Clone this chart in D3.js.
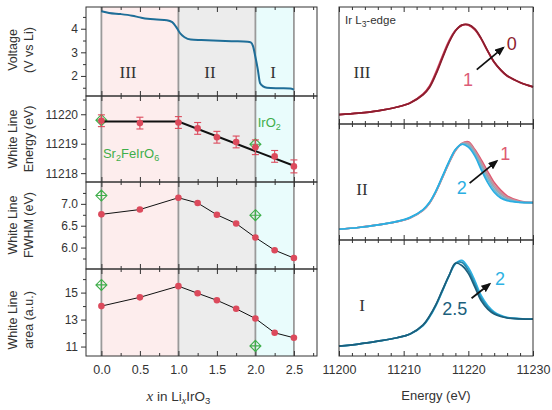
<!DOCTYPE html>
<html>
<head>
<meta charset="utf-8">
<script src="https://cdn.jsdelivr.net/npm/d3@7"></script>
<style>
body { margin: 0; background: #fff; }
text { font-family: "Liberation Sans", Arial, sans-serif; fill: #333; }
.roman { font-family: "Liberation Serif", "Times New Roman", serif; }
</style>
</head>
<body>
<svg id="chart" width="552" height="410"></svg>
<script>
// ---- left column data (x in LixIrO3)
var liX = [0, 0.5, 1.0, 1.25, 1.5, 1.75, 2.0, 2.25, 2.5];
var wlEnergy = [11219.78, 11219.70, 11219.72, 11219.52, 11219.22, 11219.06, 11218.88, 11218.57, 11218.23];
var wlEnergyErr = [0.2, 0.2, 0.2, 0.2, 0.2, 0.2, 0.25, 0.2, 0.22];
var wlFwhm = [6.76, 6.87, 7.14, 7.02, 6.75, 6.55, 6.23, 5.94, 5.76];
var wlArea = [14.0, 14.65, 15.48, 14.95, 14.43, 13.8, 13.08, 12.02, 11.65];
var fitX = [0, 1.0, 2.5];
var fitE = [11219.75, 11219.75, 11218.25];
var refX = [0, 2.0];
var refEnergy = [11219.8, 11218.98];
var refFwhm = [7.19, 6.74];
var refArea = [15.57, 11.05];
var voltX = [0, 0.1, 0.25, 0.4, 0.5, 0.6, 0.72, 0.85, 0.92, 0.97, 1.0, 1.03, 1.08, 1.16, 1.3, 1.45, 1.7, 1.9, 1.94, 1.97, 2.0, 2.03, 2.06, 2.1, 2.15, 2.3, 2.45, 2.5];
var voltV = [4.74, 4.67, 4.62, 4.55, 4.48, 4.42, 4.39, 4.36, 4.28, 4.08, 3.92, 3.78, 3.64, 3.54, 3.52, 3.5, 3.47, 3.45, 3.42, 3.25, 2.8, 2.3, 1.7, 1.56, 1.5, 1.48, 1.47, 1.42];
var regionStart = [0, 1, 2];
var regionEnd = [1, 2, 2.5];
var regionFill = ["#fdeded", "#ececec", "#e9fcfc"];
var regionLines = [0, 1, 2, 2.5];
var liTicks = [0, 0.5, 1, 1.5, 2, 2.5];

// ---- right column data (Ir L3-edge spectra)
var specE = [11200, 11203, 11206, 11209, 11211, 11213, 11214, 11215, 11216, 11217, 11218, 11219, 11220, 11221, 11222, 11223, 11224, 11225, 11226, 11228, 11230];
var specIII_1  = [0.32, 0.37, 0.45, 0.58, 0.73, 1.03, 1.30, 1.78, 2.33, 2.84, 3.20, 3.37, 3.38, 3.22, 2.90, 2.48, 2.10, 1.84, 1.64, 1.42, 1.27];
var specIII_05 = [0.32, 0.37, 0.45, 0.58, 0.72, 1.01, 1.28, 1.74, 2.29, 2.81, 3.19, 3.38, 3.39, 3.24, 2.91, 2.49, 2.11, 1.85, 1.65, 1.42, 1.27];
var specIII_0  = [0.32, 0.37, 0.45, 0.58, 0.72, 1.00, 1.25, 1.70, 2.25, 2.78, 3.18, 3.38, 3.40, 3.25, 2.92, 2.50, 2.12, 1.85, 1.65, 1.42, 1.27];
var specII_1   = [0.37, 0.43, 0.52, 0.63, 0.76, 1.02, 1.27, 1.66, 2.15, 2.65, 3.08, 3.33, 3.39, 3.12, 2.76, 2.36, 1.98, 1.72, 1.52, 1.34, 1.29];
var specII_125 = [0.37, 0.43, 0.52, 0.63, 0.76, 1.03, 1.28, 1.67, 2.16, 2.66, 3.09, 3.33, 3.35, 3.07, 2.68, 2.27, 1.90, 1.65, 1.47, 1.32, 1.29];
var specII_15  = [0.37, 0.43, 0.52, 0.64, 0.77, 1.03, 1.28, 1.68, 2.17, 2.67, 3.10, 3.32, 3.30, 3.02, 2.60, 2.18, 1.82, 1.58, 1.43, 1.31, 1.29];
var specII_175 = [0.37, 0.43, 0.52, 0.64, 0.77, 1.04, 1.29, 1.69, 2.18, 2.68, 3.11, 3.31, 3.25, 2.96, 2.51, 2.08, 1.73, 1.51, 1.39, 1.30, 1.29];
var specII_2   = [0.37, 0.43, 0.52, 0.64, 0.78, 1.05, 1.30, 1.70, 2.20, 2.70, 3.12, 3.30, 3.20, 2.90, 2.42, 1.98, 1.65, 1.45, 1.36, 1.30, 1.29];
var specI_2    = [0.34, 0.41, 0.51, 0.63, 0.76, 1.05, 1.34, 1.74, 2.24, 2.76, 3.18, 3.30, 3.05, 2.60, 2.08, 1.74, 1.52, 1.40, 1.33, 1.29, 1.27];
var specI_225  = [0.34, 0.41, 0.51, 0.63, 0.76, 1.06, 1.36, 1.76, 2.26, 2.76, 3.19, 3.23, 2.95, 2.49, 1.99, 1.68, 1.48, 1.38, 1.32, 1.28, 1.27];
var specI_25   = [0.34, 0.41, 0.51, 0.63, 0.76, 1.07, 1.38, 1.78, 2.28, 2.76, 3.20, 3.12, 2.85, 2.38, 1.90, 1.62, 1.45, 1.36, 1.31, 1.28, 1.27];
var energyTicks = [11200, 11210, 11220, 11230];

var red = "#dc4a5c", green = "#3fae4a";
var svg = d3.select("#chart");

// arrow head
svg.append("defs").append("marker")
    .attr("id", "arrow")
    .attr("viewBox", "0 0 10 8")
    .attr("refX", 8).attr("refY", 4)
    .attr("markerWidth", 10).attr("markerHeight", 8)
    .attr("markerUnits", "userSpaceOnUse")
    .attr("orient", "auto")
    .append("path").attr("d", "M0,0 L10,4 L0,8 z").attr("fill", "#111");

// ================= left column =================
var xL = d3.scaleLinear().domain([-0.2, 2.8]).range([86, 317]);
var leftPanels = [
    {top: 7,   bottom: 96,  domain: [1.15, 4.92],       major: [2, 3, 4],              minor: [1.5, 2.5, 3.5, 4.5], fmt: d3.format("d"),  l1: "Voltage",    l2: "(V vs Li)",  cy: 50},
    {top: 96,  bottom: 182, domain: [11217.7, 11220.62], major: [11218, 11219, 11220], minor: [11218.5, 11219.5, 11220.5], fmt: d3.format("d"), l1: "White Line", l2: "Energy (eV)", cy: 139},
    {top: 182, bottom: 269, domain: [5.51, 7.5],         major: [6.0, 6.5, 7.0],       minor: [5.75, 6.25, 6.75, 7.25], fmt: d3.format(".1f"), l1: "White Line", l2: "FWHM (eV)", cy: 225},
    {top: 269, bottom: 356, domain: [10.3, 16.75],       major: [11, 13, 15],          minor: [12, 14, 16], fmt: d3.format("d"), l1: "White Line", l2: "area (a.u.)", cy: 320}
];
leftPanels.forEach(function (p) {
    p.y = d3.scaleLinear().domain(p.domain).range([p.bottom, p.top]);
});

// shaded regions and region lines
var lTop = 7, lBottom = 356;
svg.append("g").selectAll("rect").data(regionStart).enter()
    .append("rect")
    .attr("x", function (d) {return xL(d);})
    .attr("width", function (d, i) {return xL(regionEnd[i]) - xL(d);})
    .attr("y", lTop).attr("height", lBottom - lTop)
    .attr("fill", function (d, i) {return regionFill[i];});
svg.append("g").selectAll("line").data(regionLines).enter()
    .append("line")
    .attr("x1", function (d) {return xL(d);}).attr("x2", function (d) {return xL(d);})
    .attr("y1", lTop).attr("y2", lBottom)
    .attr("stroke", "#9a9a9a").attr("stroke-width", 1.8);

// axes of each left panel
leftPanels.forEach(function (p, k) {
    var g = svg.append("g");
    // y major + minor (outward)
    g.append("g").attr("transform", "translate(86,0)")
        .call(d3.axisLeft(p.y).tickValues(p.major).tickFormat(p.fmt).tickSize(5).tickSizeOuter(0).tickPadding(3))
        .call(function (a) {a.select(".domain").remove();});
    g.append("g").attr("transform", "translate(86,0)")
        .call(d3.axisLeft(p.y).tickValues(p.minor).tickFormat("").tickSize(3).tickSizeOuter(0))
        .call(function (a) {a.select(".domain").remove();});
    // x ticks inward on top and bottom
    [[p.top, d3.axisTop], [p.bottom, d3.axisBottom]].forEach(function (s) {
        g.append("g").attr("transform", "translate(0," + s[0] + ")")
            .call(s[1](xL).tickValues(liTicks).tickFormat("").tickSize(-5).tickSizeOuter(0))
            .call(function (a) {a.select(".domain").remove();});
        g.append("g").attr("transform", "translate(0," + s[0] + ")")
            .call(s[1](xL).tickValues([0.25, 0.75, 1.25, 1.75, 2.25, 2.75]).tickFormat("").tickSize(-3).tickSizeOuter(0))
            .call(function (a) {a.select(".domain").remove();});
    });
    g.selectAll(".tick line").attr("stroke", "#333");
    g.selectAll(".tick text").attr("font-size", 12).attr("fill", "#333");
    // y label
    g.append("text").attr("transform", "translate(17," + p.cy + ") rotate(-90)")
        .attr("text-anchor", "middle").attr("font-size", 12.5).text(p.l1);
    g.append("text").attr("transform", "translate(33," + p.cy + ") rotate(-90)")
        .attr("text-anchor", "middle").attr("font-size", 12.5).text(p.l2);
});

// bottom x tick labels
svg.append("g").attr("transform", "translate(0," + lBottom + ")")
    .call(d3.axisBottom(xL).tickValues(liTicks).tickFormat(d3.format(".1f")).tickSize(0).tickPadding(9))
    .call(function (a) {a.select(".domain").remove();})
    .selectAll("text").attr("font-size", 12.5).attr("fill", "#333");

// voltage curve
var pV = leftPanels[0];
svg.append("path")
    .datum(d3.range(voltX.length))
    .attr("fill", "none").attr("stroke", "#1f6e98").attr("stroke-width", 2)
    .attr("d", d3.line().curve(d3.curveMonotoneX)
        .x(function (i) {return xL(voltX[i]);})
        .y(function (i) {return pV.y(voltV[i]);}));

// roman numerals on voltage panel
var romanL = [["III", 0.345], ["II", 1.41], ["I", 2.23]];
svg.append("g").selectAll("text").data(romanL).enter()
    .append("text").attr("class", "roman")
    .attr("x", function (d) {return xL(d[1]);}).attr("y", 78)
    .attr("text-anchor", "middle").attr("font-size", 17).attr("fill", "#222")
    .text(function (d) {return d[0];});

// diamond-with-cross reference markers
function refMarkers(p, vals) {
    svg.append("g").selectAll("path").data(refX).enter()
        .append("path")
        .attr("transform", function (d, i) {return "translate(" + xL(d) + "," + p.y(vals[i]) + ")";})
        .attr("d", "M0,-5.5L5.5,0L0,5.5L-5.5,0Z M0,-5.5V5.5 M-5.5,0H5.5")
        .attr("fill", "none").attr("stroke", green).attr("stroke-width", 1.1);
}

// energy panel
var pE = leftPanels[1];
refMarkers(pE, refEnergy);
svg.append("path").datum(d3.range(fitX.length))
    .attr("fill", "none").attr("stroke", "#111").attr("stroke-width", 2)
    .attr("d", d3.line().x(function (i) {return xL(fitX[i]);}).y(function (i) {return pE.y(fitE[i]);}));
var eb = svg.append("g").selectAll("g").data(liX).enter().append("g")
    .attr("stroke", red).attr("stroke-width", 1.1);
eb.append("line")
    .attr("x1", function (d) {return xL(d);}).attr("x2", function (d) {return xL(d);})
    .attr("y1", function (d, i) {return pE.y(wlEnergy[i] - wlEnergyErr[i]);})
    .attr("y2", function (d, i) {return pE.y(wlEnergy[i] + wlEnergyErr[i]);});
[-1, 1].forEach(function (s) {
    eb.append("line")
        .attr("x1", function (d) {return xL(d) - 3.5;}).attr("x2", function (d) {return xL(d) + 3.5;})
        .attr("y1", function (d, i) {return pE.y(wlEnergy[i] + s * wlEnergyErr[i]);})
        .attr("y2", function (d, i) {return pE.y(wlEnergy[i] + s * wlEnergyErr[i]);});
});
svg.append("g").selectAll("circle").data(liX).enter()
    .append("circle").attr("r", 3.3).attr("fill", red)
    .attr("cx", function (d) {return xL(d);})
    .attr("cy", function (d, i) {return pE.y(wlEnergy[i]);});

// reference labels
var sr = svg.append("text").attr("x", xL(0.02)).attr("y", 158).attr("font-size", 13).style("fill", green);
sr.append("tspan").text("Sr");
sr.append("tspan").attr("font-size", 9).attr("dy", 3).text("2");
sr.append("tspan").attr("dy", -3).text("FeIrO");
sr.append("tspan").attr("font-size", 9).attr("dy", 3).text("6");
var iro = svg.append("text").attr("x", xL(2.03)).attr("y", 127).attr("font-size", 13).style("fill", green);
iro.append("tspan").text("IrO");
iro.append("tspan").attr("font-size", 9).attr("dy", 3).text("2");

// FWHM and area panels
[[leftPanels[2], wlFwhm, refFwhm], [leftPanels[3], wlArea, refArea]].forEach(function (s) {
    var p = s[0], vals = s[1];
    refMarkers(p, s[2]);
    svg.append("path").datum(d3.range(liX.length))
        .attr("fill", "none").attr("stroke", "#111").attr("stroke-width", 1)
        .attr("d", d3.line().x(function (i) {return xL(liX[i]);}).y(function (i) {return p.y(vals[i]);}));
    svg.append("g").selectAll("circle").data(liX).enter()
        .append("circle").attr("r", 3.3).attr("fill", red)
        .attr("cx", function (d) {return xL(d);})
        .attr("cy", function (d, i) {return p.y(vals[i]);});
});

// frames
leftPanels.forEach(function (p) {
    svg.append("rect").attr("x", 86).attr("y", p.top)
        .attr("width", xL(2.8) - 86).attr("height", p.bottom - p.top)
        .attr("fill", "none").attr("stroke", "#333").attr("stroke-width", 1);
});

// x label: x in LixIrO3
var xl = svg.append("text").attr("x", xL(1.0)).attr("y", 401).attr("text-anchor", "middle").attr("font-size", 13.5);
xl.append("tspan").attr("class", "roman").attr("font-style", "italic").attr("font-size", 15).text("x");
xl.append("tspan").text(" in Li");
xl.append("tspan").attr("class", "roman").attr("font-style", "italic").attr("font-size", 10).attr("dy", 3).text("x");
xl.append("tspan").attr("dy", -3).text("IrO");
xl.append("tspan").attr("font-size", 9.5).attr("dy", 3).text("3");

// ================= right column =================
var xR = d3.scaleLinear().domain([11200, 11230]).range([339, 533]);
var rightPanels = [
    {top: 7,   bottom: 124, roman: "III",
     curves: [[specIII_1, "#dc5d78"], [specIII_05, "#b73448"], [specIII_0, "#8c1d2e"]],
     arrow: [[11221.3, 1.86], [11225.4, 2.61]],
     labels: [["1", 11219.95, 1.31, "#dc5d78"], ["0", 11226.7, 2.52, "#8c1d2e"]]},
    {top: 124, bottom: 240, roman: "II",
     curves: [[specII_1, "#de5b72"], [specII_125, "#cf8d99"], [specII_15, "#9fa3ab"], [specII_175, "#6fb6d3"], [specII_2, "#2aaee2"]],
     arrow: [[11220.2, 1.96], [11224.4, 2.72]],
     labels: [["1", 11225.7, 2.76, "#de5b72"], ["2", 11219.0, 1.59, "#2aaee2"]]},
    {top: 240, bottom: 356, roman: "I",
     curves: [[specI_2, "#2db2e3"], [specI_225, "#2389ae"], [specI_25, "#1c5f7c"]],
     arrow: [[11220.5, 1.99], [11223.3, 2.48]],
     labels: [["2", 11224.9, 2.45, "#2db2e3"], ["2.5", 11217.9, 1.41, "#1c5f7c"]]}
];

rightPanels.forEach(function (p, k) {
    var y = d3.scaleLinear().domain([0, 4]).range([p.bottom, p.top]);
    var g = svg.append("g");
    var line = d3.line().curve(d3.curveCatmullRom)
        .x(function (i) {return xR(specE[i]);});
    p.curves.forEach(function (c) {
        g.append("path").datum(d3.range(specE.length))
            .attr("fill", "none").attr("stroke", c[1]).attr("stroke-width", 1.7)
            .attr("d", line.y(function (i) {return y(c[0][i]);}));
    });
    // ticks inward
    [[p.top, d3.axisTop], [p.bottom, d3.axisBottom]].forEach(function (s) {
        g.append("g").attr("transform", "translate(0," + s[0] + ")")
            .call(s[1](xR).tickValues(energyTicks).tickFormat("").tickSize(-5).tickSizeOuter(0))
            .call(function (a) {a.select(".domain").remove();});
        g.append("g").attr("transform", "translate(0," + s[0] + ")")
            .call(s[1](xR).tickValues(d3.range(11202, 11230, 2).filter(function (v) {return v % 10 !== 0;})).tickFormat("").tickSize(-3).tickSizeOuter(0))
            .call(function (a) {a.select(".domain").remove();});
    });
    g.selectAll(".tick line").attr("stroke", "#333");
    g.append("rect").attr("x", 339).attr("y", p.top)
        .attr("width", 533 - 339).attr("height", p.bottom - p.top)
        .attr("fill", "none").attr("stroke", "#333").attr("stroke-width", 1);
    // arrow
    g.append("line")
        .attr("x1", xR(p.arrow[0][0])).attr("y1", y(p.arrow[0][1]))
        .attr("x2", xR(p.arrow[1][0])).attr("y2", y(p.arrow[1][1]))
        .attr("stroke", "#111").attr("stroke-width", 1.8)
        .attr("marker-end", "url(#arrow)");
    p.labels.forEach(function (l) {
        g.append("text").attr("x", xR(l[1])).attr("y", y(l[2]))
            .attr("text-anchor", "middle").attr("font-size", 18).style("fill", l[3]).text(l[0]);
    });
    g.append("text").attr("class", "roman").attr("x", 362).attr("y", p.top + 71)
        .attr("text-anchor", "middle").attr("font-size", 17).attr("fill", "#222").text(p.roman);
});

// Ir L3-edge label
var ir = svg.append("text").attr("x", 345).attr("y", 24).attr("font-size", 11.5);
ir.append("tspan").text("Ir L");
ir.append("tspan").attr("font-size", 8.5).attr("dy", 3).text("3");
ir.append("tspan").attr("dy", -3).text("-edge");

// energy axis labels
svg.append("g").attr("transform", "translate(0,356)")
    .call(d3.axisBottom(xR).tickValues(energyTicks).tickFormat(d3.format("d")).tickSize(0).tickPadding(9))
    .call(function (a) {a.select(".domain").remove();})
    .selectAll("text").attr("font-size", 12.5).attr("fill", "#333");
svg.append("text").attr("x", 436).attr("y", 400).attr("text-anchor", "middle")
    .attr("font-size", 13).text("Energy (eV)");
</script>
</body>
</html>
